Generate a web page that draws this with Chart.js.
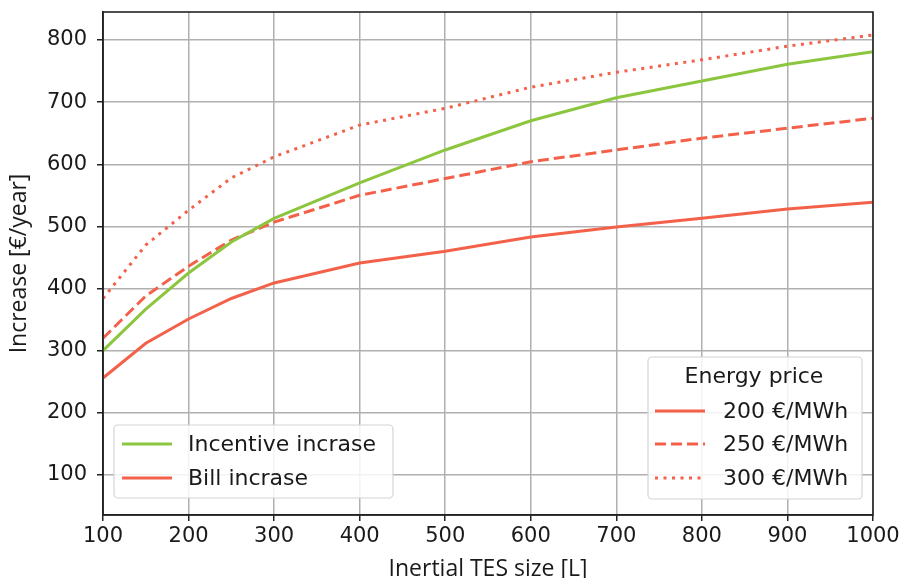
<!DOCTYPE html>
<html>
<head>
<meta charset="utf-8">
<script src="https://cdn.jsdelivr.net/npm/chart.js@4"></script>
<style>
  html, body { margin: 0; padding: 0; background: #fff; }
  #wrap { width: 905px; height: 578px; }
</style>
</head>
<body>
<div id="wrap"><canvas id="c" width="905" height="578"></canvas></div>
<script>
// TES sizes [L]
var sizes = [100, 150, 200, 250, 300, 400, 500, 600, 700, 800, 900, 1000];
// values [€/year]
var incentive = [300, 367, 425, 475, 513, 570, 623, 670, 707, 734, 761, 781];
var bill200 = [256, 312, 351, 384, 409, 441, 460, 483, 499, 513, 528, 539];
var bill250 = [320, 388, 436, 478, 507, 550, 577, 604, 623, 642, 658, 674];
var bill300 = [384, 470, 526, 578, 612, 663, 690, 724, 748, 768, 790, 808];
var xTicks = [100, 200, 300, 400, 500, 600, 700, 800, 900, 1000];
var yTicks = [100, 200, 300, 400, 500, 600, 700, 800];

var green = '#8cc63f';
var red = '#f4614a';
var font = 'DejaVu Sans';
var titleFont = 'Open Sans';
var ink = '#1a1a1a';

function pts(ys) { return sizes.map(function (x, i) { return { x: x, y: ys[i] }; }); }

// matplotlib-like legends drawn inside the plot area
var boxLegends = {
    id: 'boxLegends',
    afterDraw: function (chart) {
        var ctx = chart.ctx;
        var ds = chart.data.datasets;
        var area = chart.chartArea;

        // frame (all four spines)
        ctx.save();
        ctx.strokeStyle = '#222';
        ctx.lineWidth = 1.6;
        ctx.strokeRect(area.left, area.top, area.right - area.left, area.bottom - area.top);
        ctx.restore();

        function box(x, y, w, h) {
            ctx.save();
            ctx.fillStyle = 'rgba(255,255,255,0.85)';
            ctx.strokeStyle = '#d4d4d4';
            ctx.lineWidth = 1.2;
            ctx.beginPath();
            ctx.roundRect(x, y, w, h, 4);
            ctx.fill();
            ctx.stroke();
            ctx.restore();
        }
        function entry(x, y, tx, d, text) {
            ctx.save();
            ctx.strokeStyle = d.borderColor;
            ctx.lineWidth = d.borderWidth;
            ctx.setLineDash(d.borderDash || []);
            ctx.beginPath();
            ctx.moveTo(x, y);
            ctx.lineTo(x + 50, y);
            ctx.stroke();
            ctx.setLineDash([]);
            ctx.fillStyle = ink;
            ctx.font = '22px "' + font + '"';
            ctx.textBaseline = 'middle';
            ctx.fillText(text, tx, y + 1);
            ctx.restore();
        }

        box(114, 425, 279, 73);
        entry(122, 444, 188, ds[0], 'Incentive incrase');
        entry(122, 478, 188, ds[1], 'Bill incrase');

        box(648, 357, 214, 142);
        ctx.save();
        ctx.fillStyle = ink;
        ctx.font = '22px "' + font + '"';
        ctx.textAlign = 'center';
        ctx.textBaseline = 'middle';
        ctx.fillText('Energy price', 754, 377);
        ctx.restore();
        entry(655, 411, 723, ds[1], '200 €/MWh');
        entry(655, 444, 723, ds[2], '250 €/MWh');
        entry(655, 478, 723, ds[3], '300 €/MWh');
    }
};

new Chart(document.getElementById('c'), {
    type: 'line',
    data: {
        datasets: [
            { label: 'Incentive incrase', data: pts(incentive), borderColor: green, borderWidth: 3, pointRadius: 0, tension: 0 },
            { label: '200 €/MWh', data: pts(bill200), borderColor: red, borderWidth: 3, pointRadius: 0, tension: 0 },
            { label: '250 €/MWh', data: pts(bill250), borderColor: red, borderWidth: 3, borderDash: [11, 5], pointRadius: 0, tension: 0 },
            { label: '300 €/MWh', data: pts(bill300), borderColor: red, borderWidth: 3, borderDash: [3, 5.5], pointRadius: 0, tension: 0 }
        ]
    },
    options: {
        responsive: false, animation: false,
        layout: { padding: { top: 12, right: 32, left: 0, bottom: 0 } },
        plugins: { legend: { display: false }, tooltip: { enabled: false } },
        scales: {
            x: {
                type: 'linear', min: 100, max: 1000,
                afterFit: function (s) { s.height = 63; s.paddingLeft = 0; s.paddingRight = 0; },
                afterBuildTicks: function (s) { s.ticks = xTicks.map(function (v) { return { value: v }; }); },
                grid: { color: '#b0b0b0', lineWidth: 1.5, tickLength: 6, tickColor: '#222', tickWidth: 1.5 },
                border: { color: '#222', width: 1.6 },
                ticks: { color: ink, font: { family: font, size: 21 }, padding: 3, maxRotation: 0, callback: function (v) { return String(v); } },
                title: { display: true, text: 'Inertial TES size [L]', color: ink, font: { family: titleFont, size: 23 }, padding: { top: 0, bottom: -5 } }
            },
            y: {
                type: 'linear', min: 35.6, max: 845,
                afterFit: function (s) { s.width = 103; s.paddingTop = 0; s.paddingBottom = 0; },
                afterBuildTicks: function (s) { s.ticks = yTicks.map(function (v) { return { value: v }; }); },
                grid: { color: '#b0b0b0', lineWidth: 1.5, tickLength: 6, tickColor: '#222', tickWidth: 1.5 },
                border: { color: '#222', width: 1.6 },
                ticks: { color: ink, font: { family: font, size: 21 }, padding: 10, callback: function (v) { return String(v); } },
                title: { display: true, text: 'Increase [€/year]', color: ink, font: { family: titleFont, size: 23 }, padding: { top: 6, bottom: 0 } }
            }
        }
    },
    plugins: [boxLegends]
});
</script>
</body>
</html>
